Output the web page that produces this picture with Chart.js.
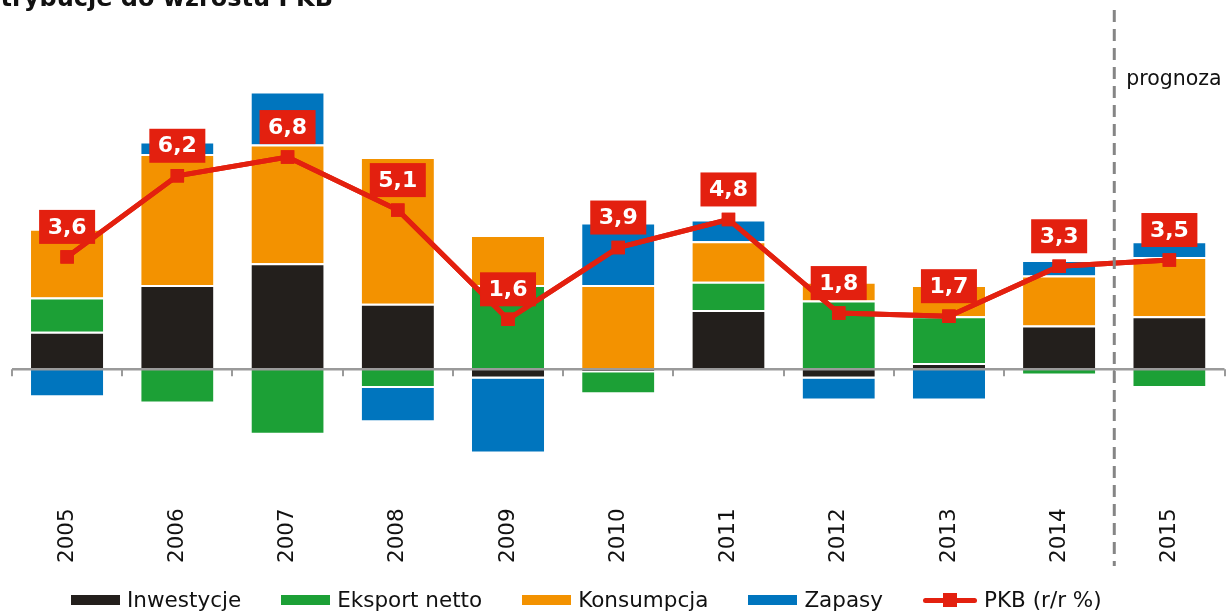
<!DOCTYPE html>
<html>
<head>
<meta charset="utf-8">
<script src="https://cdn.jsdelivr.net/npm/chart.js@4.4.1/dist/chart.umd.min.js"></script>
<style>
  html, body { margin: 0; padding: 0; background: #fff; overflow: hidden; }
  #wrap { position: relative; width: 1227px; height: 612px; overflow: hidden; }
  #c { position: absolute; left: 0; top: 0; }
  #legend { position: absolute; left: 71px; top: 588px; height: 24px; display: flex; align-items: center; gap: 40px;
            font-family: "DejaVu Sans", Verdana, sans-serif; font-size: 21.5px; line-height: 24px; color: #111; white-space: nowrap; }
  .item { display: flex; align-items: center; gap: 7px; }
  .sw { width: 49px; height: 10px; }
  .swl { position: relative; width: 54px; height: 14px; }
  .swl .ln { position: absolute; left: 0; right: 0; top: 4.5px; height: 5px; background: #E3200F; border-radius: 2.5px; }
  .swl .sq { position: absolute; left: 20px; top: 0px; width: 14px; height: 14px; background: #E3200F; }
</style>
</head>
<body>
<div id="wrap">
  <canvas id="c" width="1234" height="612" style="width:1234px;height:612px"></canvas>
  <div id="legend"></div>
</div>
<script>
// ---- data ----
const categories = ['2005', '2006', '2007', '2008', '2009', '2010', '2011', '2012', '2013', '2014', '2015'];
const inwestycje   = [1.2, 2.7, 3.4, 2.1, -0.3, -0.1, 1.9, -0.3, 0.2, 1.4, 1.7];
const eksportNetto = [1.1, -1.1, -2.1, -0.6, 2.7, -0.7, 0.9, 2.2, 1.5, -0.2, -0.6];
const konsumpcja   = [2.2, 4.2, 3.8, 4.7, 1.6, 2.7, 1.3, 0.6, 1.0, 1.6, 1.9];
const zapasy       = [-0.9, 0.4, 1.7, -1.1, -2.4, 2.0, 0.7, -0.7, -1.0, 0.5, 0.5];
const pkb          = [3.6, 6.2, 6.8, 5.1, 1.6, 3.9, 4.8, 1.8, 1.7, 3.3, 3.5];
const pkbLabels    = ['3,6', '6,2', '6,8', '5,1', '1,6', '3,9', '4,8', '1,8', '1,7', '3,3', '3,5'];
const seriesNames  = ['Inwestycje', 'Eksport netto', 'Konsumpcja', 'Zapasy', 'PKB (r/r %)'];
const titleText    = 'Kontrybucje do wzrostu PKB';
const forecastText = 'prognoza';
const forecastFromIndex = 10;

const COLORS = { inw: '#231F1C', eks: '#1CA036', kon: '#F39200', zap: '#0075BE', pkb: '#E3200F' };
const FONT = '"DejaVu Sans", Verdana, sans-serif';

function sepBorder(ctx) {
  const v = ctx.raw;
  return v >= 0 ? { top: 2, bottom: 0, left: 0, right: 0 } : { top: 0, bottom: 2, left: 0, right: 0 };
}
function barDs(label, data, color) {
  return {
    type: 'bar', label, data, backgroundColor: color, borderColor: '#ffffff',
    borderWidth: sepBorder, borderSkipped: false, stack: 'contrib', order: 1,
    barPercentage: 0.655, categoryPercentage: 1.0
  };
}

const axisPlugin = {
  id: 'zeroAxis',
  afterDatasetsDraw(chart) {
    const { ctx, chartArea, scales } = chart;
    const y0 = scales.y.getPixelForValue(0);
    const n = categories.length;
    const step = (chartArea.right - chartArea.left) / n;
    ctx.save();
    ctx.strokeStyle = '#9a9a9a';
    ctx.lineWidth = 2.5;
    ctx.beginPath();
    ctx.moveTo(chartArea.left, y0);
    ctx.lineTo(chartArea.right, y0);
    ctx.stroke();
    ctx.lineWidth = 2;
    for (let i = 0; i <= n; i++) {
      const x = Math.round(chartArea.left + i * step);
      ctx.beginPath();
      ctx.moveTo(x, y0);
      ctx.lineTo(x, y0 + 7);
      ctx.stroke();
    }
    ctx.restore();
  }
};

const labelPlugin = {
  id: 'pkbLabels',
  afterDatasetsDraw(chart) {
    const meta = chart.getDatasetMeta(4);
    const { ctx } = chart;
    ctx.save();
    meta.controller.draw();
    ctx.font = 'bold 22px ' + FONT;
    ctx.textAlign = 'center';
    ctx.textBaseline = 'middle';
    meta.data.forEach((pt, i) => {
      const w = 56, h = 34;
      const bx = pt.x - w / 2, by = pt.y - 13 - h;
      ctx.fillStyle = COLORS.pkb;
      ctx.fillRect(bx, by, w, h);
      ctx.fillStyle = '#ffffff';
      ctx.fillText(pkbLabels[i], pt.x, by + h / 2 + 1);
    });
    ctx.restore();
  }
};

const decoPlugin = {
  id: 'deco',
  afterDraw(chart) {
    const { ctx, scales } = chart;
    const xs = scales.x;
    const xd = (xs.getPixelForValue(forecastFromIndex - 1) + xs.getPixelForValue(forecastFromIndex)) / 2;
    ctx.save();
    ctx.strokeStyle = '#858585';
    ctx.lineWidth = 3;
    ctx.setLineDash([12, 7]);
    ctx.beginPath();
    ctx.moveTo(xd, 10);
    ctx.lineTo(xd, 566);
    ctx.stroke();
    ctx.setLineDash([]);
    ctx.fillStyle = '#111';
    ctx.font = '20.5px ' + FONT;
    ctx.textAlign = 'left';
    ctx.textBaseline = 'alphabetic';
    ctx.fillText(forecastText, xd + 12, 85);
    ctx.font = 'bold 24px ' + FONT;
    ctx.textAlign = 'right';
    ctx.fillText(titleText, 333, 6);
    ctx.restore();
  }
};

const chart = new Chart(document.getElementById('c'), {
  data: {
    labels: categories,
    datasets: [
      barDs(seriesNames[0], inwestycje, COLORS.inw),
      barDs(seriesNames[1], eksportNetto, COLORS.eks),
      barDs(seriesNames[2], konsumpcja, COLORS.kon),
      barDs(seriesNames[3], zapasy, COLORS.zap),
      {
        type: 'line', label: seriesNames[4], data: pkb, stack: 'pkb', order: 0,
        borderColor: COLORS.pkb, backgroundColor: COLORS.pkb, borderWidth: 5,
        pointStyle: 'rect', pointRadius: 9.5, pointBorderWidth: 0,
        pointBackgroundColor: COLORS.pkb, tension: 0, fill: false
      }
    ]
  },
  options: {
    responsive: false,
    animation: false,
    devicePixelRatio: 1,
    layout: { padding: { top: 26, left: 12, right: 0, bottom: 41 } },
    plugins: { legend: { display: false }, tooltip: { enabled: false } },
    scales: {
      x: {
        stacked: true,
        offset: true,
        grid: { display: false, drawTicks: false },
        border: { display: false },
        ticks: {
          color: '#111', font: { family: FONT, size: 21.5 },
          minRotation: 90, maxRotation: 90, padding: 8, autoSkip: false
        }
      },
      y: {
        stacked: true, display: false, min: -4.2, max: 11,
        grid: { display: false }
      }
    }
  },
  plugins: [axisPlugin, labelPlugin, decoPlugin]
});

const legendEl = document.getElementById('legend');
chart.data.datasets.forEach(ds => {
  const item = document.createElement('div');
  item.className = 'item';
  if (ds.type === 'line') {
    item.innerHTML = '<div class="swl"><div class="ln"></div><div class="sq"></div></div>';
  } else {
    const sw = document.createElement('div');
    sw.className = 'sw';
    sw.style.background = ds.backgroundColor;
    item.appendChild(sw);
  }
  const t = document.createElement('span');
  t.textContent = ds.label;
  item.appendChild(t);
  legendEl.appendChild(item);
});
</script>
</body>
</html>
